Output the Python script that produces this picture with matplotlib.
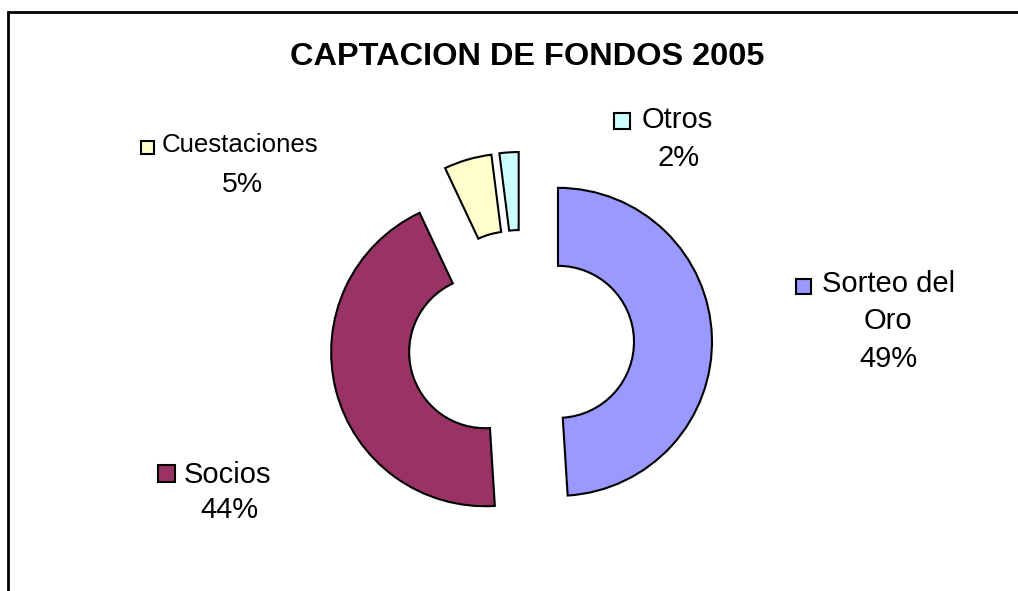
import matplotlib.pyplot as plt
from matplotlib.patches import Rectangle

# datos del grafico
categorias = ['Sorteo del Oro', 'Socios', 'Cuestaciones', 'Otros']
porcentajes = [49, 44, 5, 2]
colores = ['#9999FF', '#993366', '#FFFFCC', '#CCFFFF']
titulo = 'CAPTACION DE FONDOS 2005'

plt.rcParams['font.family'] = ['Liberation Sans', 'DejaVu Sans']

W, H = 1018, 591
fig = plt.figure(figsize=(W / 100, H / 100), dpi=100)
ax = fig.add_axes([0, 0, 1, 1])

# dona separada, coordenadas en pixeles (y hacia arriba)
radio = 154
ax.pie(porcentajes, colors=colores, center=(521, H - 343), radius=radio,
       startangle=90, counterclock=False, explode=[37] * 4,
       wedgeprops=dict(width=78, edgecolor='black', linewidth=1.5))
ax.set_xlim(0, W)
ax.set_ylim(0, H)
ax.set_aspect('equal')
ax.axis('off')

# marco
ax.plot([8.5, 8.5, W], [0, H - 11.5, H - 11.5], color='black', lw=2,
        solid_capstyle='butt', solid_joinstyle='miter', clip_on=False)

ax.text(527, H - 57, titulo, ha='center', va='center', fontsize=23.4,
        fontweight='bold')


def etiqueta(x_caja, y_caja, lado, color, lineas):
    # cuadro de leyenda y texto
    ax.add_patch(Rectangle((x_caja, H - y_caja - lado / 2), lado, lado,
                           facecolor=color, edgecolor='black', lw=1.5))
    for (tx, ty, txt, ha, fs) in lineas:
        ax.text(tx, H - ty, txt, ha=ha, va='center', fontsize=fs)


etiqueta(614, 121, 16, colores[3],
         [(642, 120, 'Otros', 'left', 21), (679, 158, '2%', 'center', 21)])
etiqueta(141, 147, 13, colores[2],
         [(162, 145, 'Cuestaciones', 'left', 18.6),
          (242, 185, '5%', 'center', 20.5)])
etiqueta(796, 286, 15, colores[0],
         [(822, 284, 'Sorteo del', 'left', 21), (888, 321, 'Oro', 'center', 21),
          (888, 359, '49%', 'center', 21)])
etiqueta(158, 473, 17, colores[1],
         [(184, 475, 'Socios', 'left', 21), (229, 510, '44%', 'center', 21)])

plt.savefig('out.png', dpi=100)
